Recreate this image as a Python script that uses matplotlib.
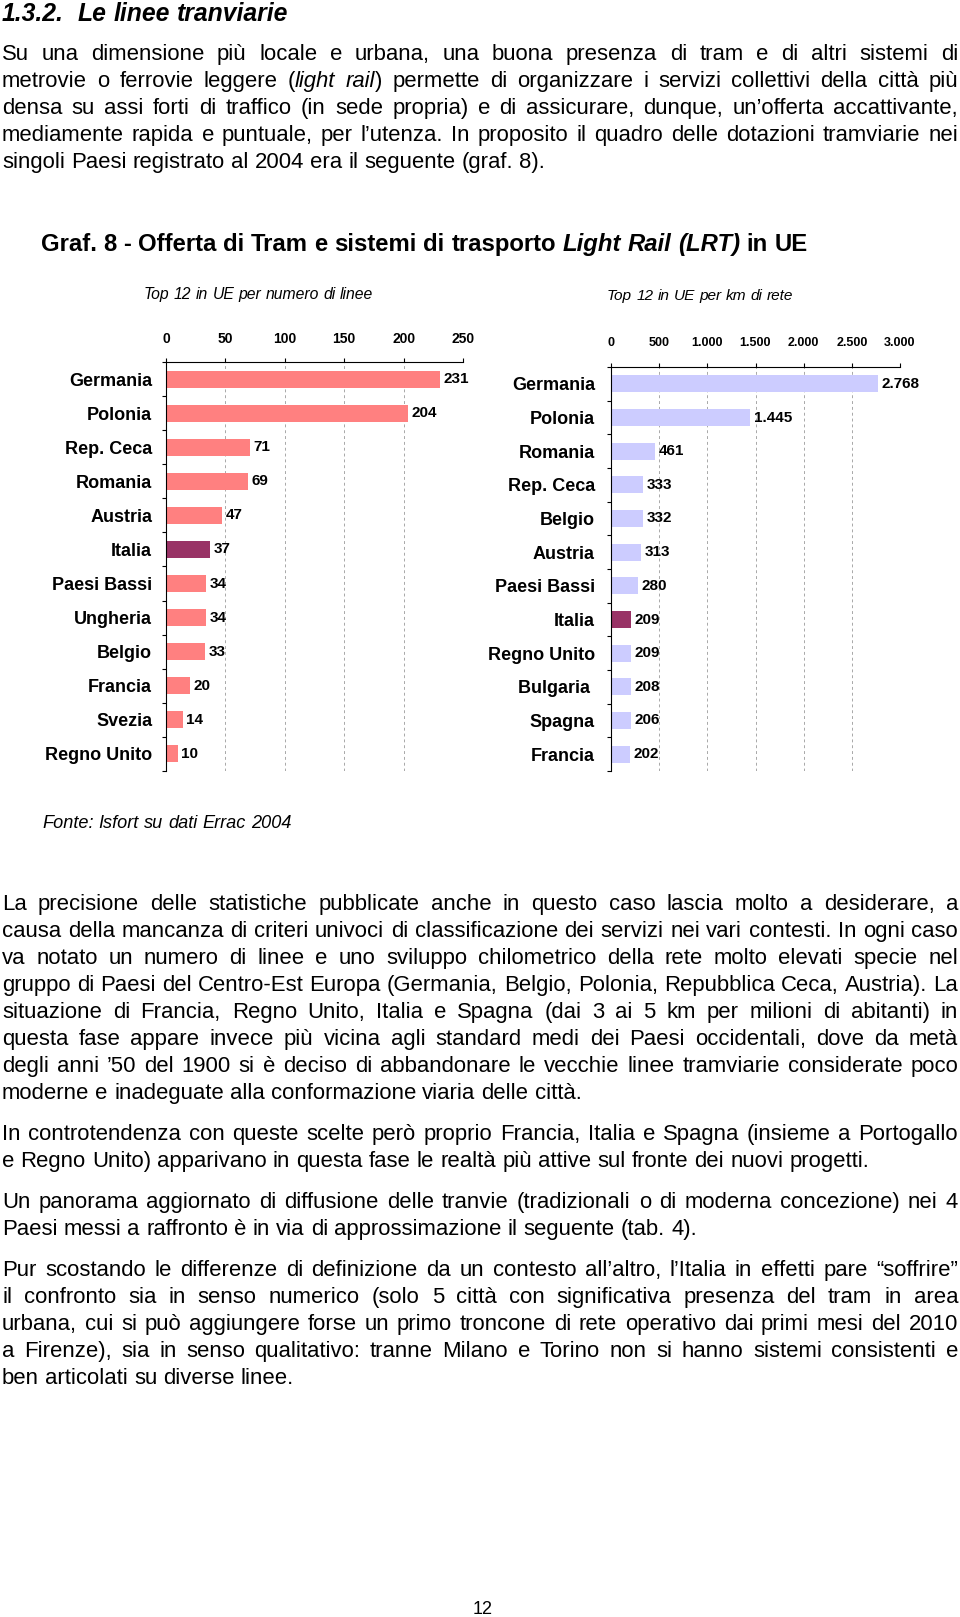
import matplotlib
matplotlib.use("Agg")
import matplotlib.pyplot as plt

# --- data -------------------------------------------------------------
lines_countries = ["Germania", "Polonia", "Rep. Ceca", "Romania", "Austria", "Italia",
                   "Paesi Bassi", "Ungheria", "Belgio", "Francia", "Svezia", "Regno Unito"]
lines_values = [231, 204, 71, 69, 47, 37, 34, 34, 33, 20, 14, 10]

km_countries = ["Germania", "Polonia", "Romania", "Rep. Ceca", "Belgio", "Austria",
                "Paesi Bassi", "Italia", "Regno Unito", "Bulgaria ", "Spagna", "Francia"]
km_values = [2768, 1445, 461, 333, 332, 313, 280, 209, 209, 208, 206, 202]

lines_ticks = [0, 50, 100, 150, 200, 250]
km_ticks = [0, 500, 1000, 1500, 2000, 2500, 3000]

heading = "1.3.2.  Le linee tranviarie"
para1 = ["Su una dimensione più locale e urbana, una buona presenza di tram e di altri sistemi di",
         "metrovie o ferrovie leggere (*light rail*) permette di organizzare i servizi collettivi della città più",
         "densa su assi forti di traffico (in sede propria) e di assicurare, dunque, un’offerta accattivante,",
         "mediamente rapida e puntuale, per l’utenza. In proposito il quadro delle dotazioni tramviarie nei",
         "singoli Paesi registrato al 2004 era il seguente (graf. 8)."]
para2 = ["La precisione delle statistiche pubblicate anche in questo caso lascia molto a desiderare, a",
         "causa della mancanza di criteri univoci di classificazione dei servizi nei vari contesti. In ogni caso",
         "va notato un numero di linee e uno sviluppo chilometrico della rete molto elevati specie nel",
         "gruppo di Paesi del Centro-Est Europa (Germania, Belgio, Polonia, Repubblica Ceca, Austria). La",
         "situazione di Francia, Regno Unito, Italia e Spagna (dai 3 ai 5 km per milioni di abitanti) in",
         "questa fase appare invece più vicina agli standard medi dei Paesi occidentali, dove da metà",
         "degli anni ’50 del 1900 si è deciso di abbandonare le vecchie linee tramviarie considerate poco",
         "moderne e inadeguate alla conformazione viaria delle città."]
para3 = ["In controtendenza con queste scelte però proprio Francia, Italia e Spagna (insieme a Portogallo",
         "e Regno Unito) apparivano in questa fase le realtà più attive sul fronte dei nuovi progetti."]
para4 = ["Un panorama aggiornato di diffusione delle tranvie (tradizionali o di moderna concezione) nei 4",
         "Paesi messi a raffronto è in via di approssimazione il seguente (tab. 4)."]
para5 = ["Pur scostando le differenze di definizione da un contesto all’altro, l’Italia in effetti pare “soffrire”",
         "il confronto sia in senso numerico (solo 5 città con significativa presenza del tram in area",
         "urbana, cui si può aggiungere forse un primo troncone di rete operativo dai primi mesi del 2010",
         "a Firenze), sia in senso qualitativo: tranne Milano e Torino non si hanno sistemi consistenti e",
         "ben articolati su diverse linee."]

title = "Graf. 8 - Offerta di Tram e sistemi di trasporto *Light Rail (LRT)* in UE"
sub_left = "Top 12 in UE per numero di linee"
sub_right = "Top 12 in UE per km di rete"
source = "Fonte: Isfort su dati Errac 2004"

# --- page -------------------------------------------------------------
W, H = 960, 1617
FONT = "Liberation Sans"
fig = plt.figure(figsize=(9.6, 16.17), dpi=100)
fig.patch.set_facecolor("white")
renderer = fig.canvas.get_renderer()


def fx(x):
    return x / W


def fy(y):
    return 1 - round(y) / H


def put(s, y, size, italic, weight):
    t = fig.text(0, fy(y), s, fontsize=size, family=FONT, va="baseline", ha="left",
                 style="italic" if italic else "normal", weight=weight)
    return t, t.get_window_extent(renderer).width


def space_width(size, weight):
    a, wa = put("a a", 0, size, False, weight)
    b, wb = put("aa", 0, size, False, weight)
    a.remove()
    b.remove()
    return wa - wb


def draw_line(line, y, size, justify=False, x0=2, x1=958, weight="normal", italic=False):
    items = []
    for word in line.split(" "):
        objs = []
        for k, part in enumerate(word.split("*")):
            if k > 0:
                italic = not italic
            if part:
                objs.append(put(part, y, size, italic, weight))
        items.append(objs)
    widths = [sum(w for _, w in objs) for objs in items]
    gap = space_width(size, weight)
    if justify and len(items) > 1:
        gap = (x1 - x0 - sum(widths)) / (len(items) - 1)
    x = x0
    texts = []
    for objs in items:
        for t, w in objs:
            t.set_x(fx(x))
            texts.append(t)
            x += w
        x += gap
    return texts, x - gap


def natural_width(line, size, weight="normal", italic=False):
    texts, end = draw_line(line, 0, size, False, 0, weight=weight, italic=italic)
    for t in texts:
        t.remove()
    return end


def fit_line(line, y, x0, x1, size, weight="normal", italic=False):
    w = natural_width(line, size, weight, italic)
    draw_line(line, y, size * (x1 - x0) / w, False, x0, weight=weight, italic=italic)


def paragraph(lines, y0, step, size):
    for i, ln in enumerate(lines):
        draw_line(ln, y0 + i * step, size, justify=(i < len(lines) - 1))


# body size: the densest justified line is set at (almost) natural spacing
full_lines = [ln for p in (para1, para2, para3, para4, para5) for ln in p[:-1]]
widest = max(natural_width(ln, 13.5) for ln in full_lines)
body = 13.5 * 952 / widest

fit_line(heading, 21, 2, 287, 13, weight="bold", italic=True)
paragraph(para1, 59.5, 27.2, body)
fit_line(title, 251, 41, 811, 14, weight="bold")
fit_line(sub_left, 299, 144, 374, 10, italic=True)
fit_line(sub_right, 300, 607, 795, 10, italic=True)
fit_line(source, 828, 42, 291, 11, italic=True)
paragraph(para2, 910.5, 26.95, body)
paragraph(para3, 1140.5, 26.8, body)
paragraph(para4, 1208.5, 26.8, body)
paragraph(para5, 1276.5, 26.8, body)
fig.text(fx(483), fy(1614), "12", fontsize=13, family=FONT, ha="center", va="baseline")


# --- charts -----------------------------------------------------------
def it_num(v):
    return f"{v:,}".replace(",", ".")


def bar_panel(rect, cats, vals, ticks, color, tick_size, tick_pad, label_pad):
    ax = fig.add_axes(rect)
    ypos = list(range(len(cats)))
    colors = ["#993366" if c.strip() == "Italia" else color for c in cats]
    ax.barh(ypos, vals, height=0.5, color=colors, zorder=2)
    ax.set_xlim(0, ticks[-1])
    ax.set_ylim(len(cats) - 0.5, -0.5)
    ax.xaxis.tick_top()
    ax.set_xticks(ticks)
    ax.set_xticklabels([it_num(t) for t in ticks], fontsize=tick_size,
                       fontweight="bold", family=FONT)
    ax.tick_params(axis="x", direction="out", length=3, width=0.8, pad=tick_pad)
    ax.set_yticks(ypos)
    ax.set_yticklabels(cats, fontsize=13, fontweight="bold", family=FONT)
    ax.tick_params(axis="y", length=0, pad=label_pad)
    ax.set_yticks([i - 0.5 for i in range(len(cats) + 1)], minor=True)
    ax.tick_params(axis="y", which="minor", direction="out", length=3, width=0.8)
    for side in ("right", "bottom"):
        ax.spines[side].set_visible(False)
    for side in ("top", "left"):
        ax.spines[side].set_linewidth(0.8)
    ax.xaxis.grid(True, linestyle=(0, (3, 3)), color="#A8A8A8", linewidth=0.7)
    ax.set_axisbelow(True)
    for y, v in zip(ypos, vals):
        ax.annotate(it_num(v), (v, y), xytext=(2.5, 0), textcoords="offset points",
                    va="center", ha="left", fontsize=11, fontweight="bold", family=FONT)
    return ax


bar_panel([fx(166), fy(771), 297 / W, (771 - 362) / H], lines_countries, lines_values,
          lines_ticks, "#FF8080", 10, 8.5, 10)
bar_panel([fx(611), fy(771), 289 / W, (771 - 367) / H], km_countries, km_values,
          km_ticks, "#CCCCFF", 9, 10, 11.5)

fig.savefig("out.png", dpi=100, facecolor="white")
